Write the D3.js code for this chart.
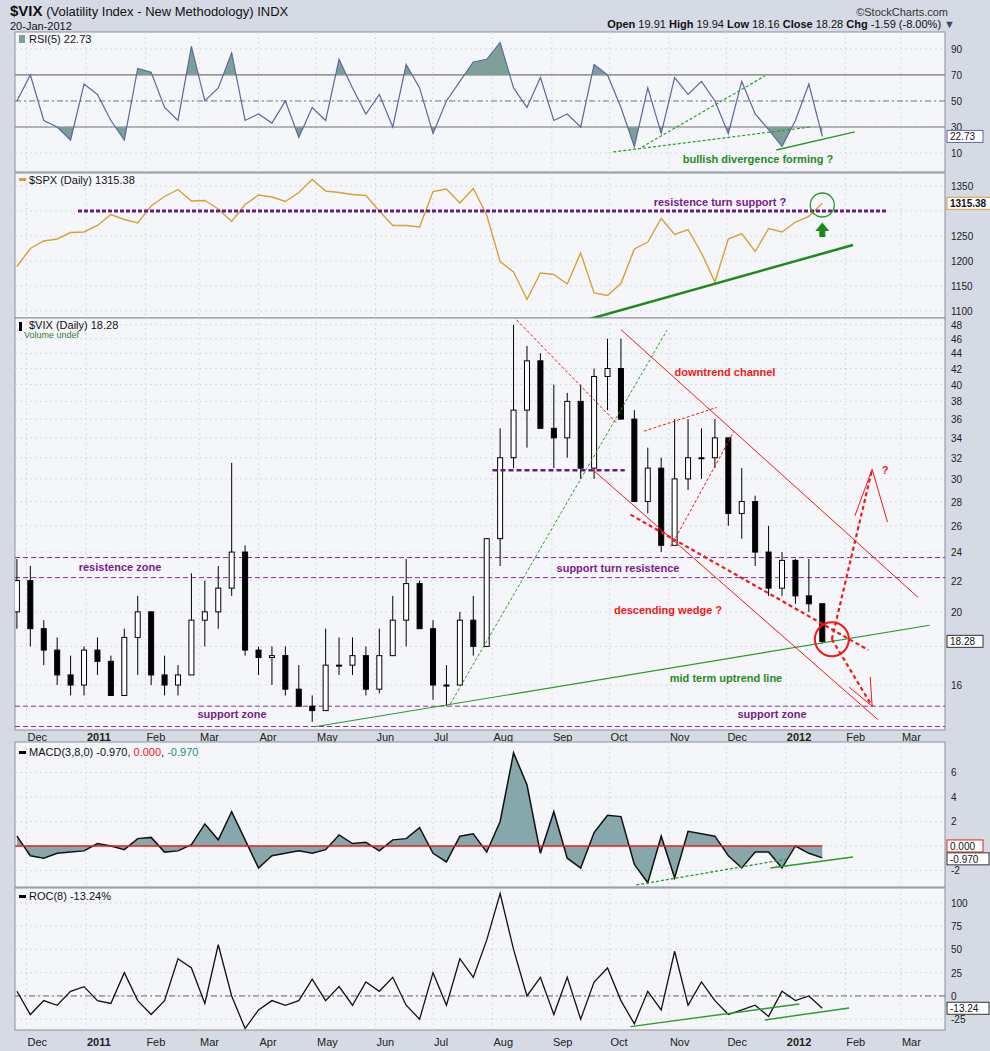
<!DOCTYPE html>
<html>
<head>
<meta charset="utf-8">
<script src="https://cdn.jsdelivr.net/npm/d3@7"></script>
<style>
  body { margin: 0; background: #d5dae4; }
  svg { display: block; font-family: "Liberation Sans", Arial, sans-serif; }
</style>
</head>
<body>
<svg id="chart" width="990" height="1051"></svg>
<script>
// weekly closes, Fri 26-Nov-2010 .. Fri 20-Jan-2012
const firstWeek = new Date(2010, 10, 26);
const vixOpen  = [20,22,19,17.8,16.5,16,17.8,17.2,15.5,18.5,20,16.5,16,16.5,19.5,20,21.5,24,17.8,17.4,17.5,15.8,15,14.8,17,17,17.5,15.8,17.5,19.5,21.8,19,16,16,19.5,18,25,32,37,43,35,34,38,31,41,42,36,28,31,24.5,30,32,32,34,27,28,24,21.5,23.4,21,20.5];
const vixHigh  = [23.5,23,19.5,18.5,17.5,18,18.5,17.5,19,21,20,17.5,17,22.5,22,23,31.5,24.5,18,18,18,17,15.5,19,18.5,18.5,18,19,21,23.5,22,19.5,17,20,21,25,35,48,45,44,40,39,40,42,46,46,37,33,32,36,36,35,36,34,31,28.5,26,24,23.5,23.5,20.5];
const vixLow   = [19,18,17,16,15.5,15.5,16.5,15.5,15.5,16.5,16,15.5,15.5,16.5,18,19,21,17.5,16.5,16,15.5,15,14.3,14.8,16.5,16.5,15.5,15.6,17.5,18,19,15.3,15,16,17.5,18,23,31,33,35,31,32,30,30,37,36,28,27,24,24.5,29,30,31,26,25,23,21,21,20.5,20,18.16];
const vixClose = [22,19,17.8,16.5,16,17.8,17.2,15.5,18.5,20,16.5,16,16.5,19.5,20,21.5,24,17.8,17.4,17.5,15.8,15,14.8,17,17,17.5,15.8,17.5,19.5,21.8,19,16,16,19.5,18,25,32,37,43,35,34,38,31,41,42,36,28,31,24.5,30,32,32,34,27,28,24,21.5,23.4,21,20.5,18.28];
const spx = [1189,1225,1240,1244,1257,1258,1271,1293,1283,1276,1310,1329,1343,1320,1321,1304,1279,1313,1332,1328,1319,1337,1363,1340,1337,1333,1331,1300,1271,1271,1268,1339,1344,1316,1345,1292,1199,1178,1123,1176,1173,1154,1216,1136,1131,1155,1224,1238,1285,1253,1263,1216,1158,1244,1255,1219,1265,1258,1278,1289,1315.38];
const rsi = [50,70,35,30,20,63,55,35,20,75,72,45,35,92,50,60,87,35,40,33,50,22,45,35,82,60,40,55,30,78,60,25,50,65,80,82,95,60,45,68,35,40,30,78,70,45,15,60,25,68,55,65,50,25,65,40,28,15,35,63,22.73];
const macd = [0.8,-0.8,-1,-0.6,-0.5,-0.4,0.2,0,-0.3,0.6,0.7,-0.5,-0.4,0.1,1.8,0.5,2.8,0.5,-1.8,-0.8,-0.6,-0.4,-0.6,-0.3,0.9,0.2,0.3,-0.4,0.5,0.6,1.5,-0.6,-1.3,0.8,1.0,-0.5,2.0,7.6,5.0,-0.6,2.8,-1.0,-1.8,1.1,2.5,2.4,-1.5,-3.0,0.8,-2.6,1.2,1.0,0.8,-0.8,-1.8,-0.5,-0.5,-1.8,0.0,-0.6,-0.97];
const roc = [5,-20,-5,-10,5,10,-5,-8,25,-5,-20,-5,40,30,-8,55,0,-35,-15,-5,-10,-5,18,-5,10,-10,15,5,20,-10,-25,25,-10,40,20,60,110,50,0,20,-20,20,-25,15,30,-5,-30,5,-15,48,-10,15,-5,-20,-15,-10,-22,5,-5,0,-13.24];
const monthTicks = ["2010-12-01","2011-01-01","2011-02-01","2011-03-01","2011-04-01","2011-05-01","2011-06-01","2011-07-01","2011-08-01","2011-09-01","2011-10-01","2011-11-01","2011-12-01","2012-01-01","2012-02-01","2012-03-01"];
const monthLabels = ["Dec","2011","Feb","Mar","Apr","May","Jun","Jul","Aug","Sep","Oct","Nov","Dec","2012","Feb","Mar"];
const vixTicks = [16,18,20,22,24,26,28,30,32,34,36,38,40,42,44,46,48];
const rsiTicks = [10,30,50,70,90];
const spxTicks = [1100,1150,1200,1250,1300,1350];
const macdTicks = [-2,0,2,4,6];
const rocTicks = [-25,0,25,50,75,100];

const pd = s => d3.timeParse("%Y-%m-%d")(s);
const dates = vixClose.map((_, i) => d3.timeDay.offset(firstWeek, 7 * i));

const svg = d3.select("#chart");
const L = 15, R = 945;
const x = d3.scaleTime().domain([pd("2010-11-25"), pd("2012-03-24")]).range([L, R]);

function panel(top, bottom, y, ticks, hidden) {
  const g = svg.append("g");
  g.append("rect").attr("x", L).attr("y", top).attr("width", R - L).attr("height", bottom - top)
    .attr("fill", "#f5f6fa").attr("stroke", "#8a8f9a");
  monthTicks.forEach(t => g.append("line").attr("x1", x(pd(t))).attr("x2", x(pd(t)))
    .attr("y1", top).attr("y2", bottom).attr("stroke", "#d8dbe2").attr("stroke-dasharray", "2,3"));
  ticks.forEach(t => {
    g.append("line").attr("x1", L).attr("x2", R).attr("y1", y(t)).attr("y2", y(t))
      .attr("stroke", "#d8dbe2").attr("stroke-dasharray", "2,3");
    if (!(hidden || []).includes(t))
      g.append("text").attr("x", R + 6).attr("y", y(t) + 4).attr("font-size", 10).attr("fill", "#222").text(t);
  });
  const id = "c" + top;
  svg.append("clipPath").attr("id", id).append("rect").attr("x", L).attr("y", top).attr("width", R - L).attr("height", bottom - top);
  return svg.append("g").attr("clip-path", `url(#${id})`);
}
function hline(g, y, v, stroke, w, dash) {
  g.append("line").attr("x1", L).attr("x2", R).attr("y1", y(v)).attr("y2", y(v))
    .attr("stroke", stroke).attr("stroke-width", w).attr("stroke-dasharray", dash || null);
}
function seg(g, xs, ys, color, w, dash, yScale) {
  g.append("line").attr("x1", x(pd(xs[0]))).attr("y1", yScale(ys[0])).attr("x2", x(pd(xs[1]))).attr("y2", yScale(ys[1]))
    .attr("stroke", color).attr("stroke-width", w).attr("stroke-dasharray", dash || null);
}
function label(txt, px, py, color, size, anchor, weight) {
  svg.append("text").attr("x", px).attr("y", py).attr("fill", color).attr("font-size", size)
    .attr("font-weight", weight || "bold").attr("text-anchor", anchor || "start").text(txt);
}
function valBox(txt, py, color, bold) {
  const w = txt.length * 6 + 6;
  svg.append("rect").attr("x", R + 2).attr("y", py - 6).attr("width", w).attr("height", 12).attr("fill", "#fff").attr("stroke", color);
  svg.append("text").attr("x", R + 5).attr("y", py + 4).attr("font-size", 10).attr("fill", "#111")
    .attr("font-weight", bold ? "bold" : "normal").text(txt);
}

// header
svg.append("text").attr("x", 10).attr("y", 16).attr("font-size", 13).attr("fill", "#111")
  .html('<tspan font-weight="bold" font-size="15">$VIX</tspan> (Volatility Index - New Methodology) INDX');
label("20-Jan-2012", 10, 30, "#111", 11, "start", "normal");
label("\u00a9StockCharts.com", 948, 16, "#333", 11, "end", "normal");
svg.append("text").attr("x", 955).attr("y", 28).attr("font-size", 11).attr("text-anchor", "end").attr("fill", "#111")
  .html('<tspan font-weight="bold">Open</tspan> 19.91 <tspan font-weight="bold">High</tspan> 19.94 <tspan font-weight="bold">Low</tspan> 18.16 <tspan font-weight="bold">Close</tspan> 18.28 <tspan font-weight="bold">Chg</tspan> -1.59 (-8.00%) <tspan fill="#446">\u25BC</tspan>');

// RSI
const yR = d3.scaleLinear().domain([-4.6, 103]).range([172, 32]);
const gR = panel(32, 172, yR, rsiTicks);
hline(gR, yR, 70, "#777", 1.2); hline(gR, yR, 30, "#777", 1.2); hline(gR, yR, 50, "#777", 1, "6,3,2,3");
const rsiPts = rsi.map((v, i) => [dates[i], v]);
["hi", "lo"].forEach(k => {
  const lvl = k === "hi" ? 70 : 30;
  const cid = "rsi" + k;
  svg.append("clipPath").attr("id", cid).append("rect").attr("x", L)
    .attr("y", k === "hi" ? 32 : yR(30)).attr("width", R - L).attr("height", k === "hi" ? yR(70) - 32 : 172 - yR(30));
  gR.append("path").datum(rsiPts).attr("clip-path", `url(#${cid})`).attr("fill", "#7e9e9b")
    .attr("d", d3.area().x(d => x(d[0])).y0(yR(lvl)).y1(d => yR(d[1])));
});
gR.append("path").datum(rsiPts).attr("fill", "none").attr("stroke", "#5b6a9c").attr("stroke-width", 1.2)
  .attr("d", d3.line().x(d => x(d[0])).y(d => yR(d[1])));
seg(gR, ["2011-10-03", "2012-01-14"], [10.8, 30], "#2a9a2a", 1.2, "3,2", yR);
seg(gR, ["2011-10-18", "2011-12-21"], [14.6, 69.2], "#2a9a2a", 1.2, "3,2", yR);
seg(gR, ["2011-12-27", "2012-02-06"], [12.3, 26.2], "#2a9a2a", 1.4, null, yR);
label("RSI(5) 22.73", 29, 43, "#111", 11, "start", "normal");
svg.append("rect").attr("x", 19).attr("y", 35).attr("width", 6).attr("height", 8).attr("fill", "#7e9e9b");
label("bullish divergence forming ?", 758, 163, "#1f8a1f", 11, "middle");
valBox("22.73", yR(22.73), "#5b6a9c");

// SPX
const yS = d3.scaleLinear().domain([1086, 1376]).range([318, 173]);
const gS = panel(173, 318, yS, spxTicks, [1300]);
gS.append("path").datum(spx.map((v, i) => [dates[i], v])).attr("fill", "none").attr("stroke", "#d9a033").attr("stroke-width", 1.4)
  .attr("d", d3.line().x(d => x(d[0])).y(d => yS(d[1])));
gS.append("line").attr("x1", 78).attr("x2", 887).attr("y1", yS(1300)).attr("y2", yS(1300))
  .attr("stroke", "#6a1a80").attr("stroke-width", 3).attr("stroke-dasharray", "4,2");
seg(gS, ["2011-09-15", "2012-02-05"], [1078, 1232], "#1a8a1a", 2.5, null, yS);
const ax = x(dates[60]);
gS.append("circle").attr("cx", ax).attr("cy", yS(1312)).attr("r", 12).attr("fill", "none").attr("stroke", "#2a9a2a").attr("stroke-width", 1.3);
gS.append("path").attr("fill", "#1a8a1a")
  .attr("d", `M${ax - 7},${yS(1260)} L${ax},${yS(1277)} L${ax + 7},${yS(1260)} L${ax + 3},${yS(1260)} L${ax + 3},${yS(1248)} L${ax - 3},${yS(1248)} L${ax - 3},${yS(1260)} Z`);
label("$SPX (Daily) 1315.38", 29, 184, "#111", 11, "start", "normal");
svg.append("rect").attr("x", 19).attr("y", 178).attr("width", 7).attr("height", 3).attr("fill", "#d9a033");
label("resistence turn support ?", 720, 206, "#7a1a8a", 11, "middle");
valBox("1315.38", yS(1315.38), "#d9a033", true);

// VIX
const yV = d3.scaleLog().domain([13.95, 49]).range([730, 318]);
const gV = panel(318, 730, yV, vixTicks, [18]);
[23.6, 22.2, 15.0, 14.1].forEach(v => hline(gV, yV, v, "#8a2a9a", 1, "5,3"));
const cw = 5;
dates.forEach((d, i) => {
  const up = vixClose[i] >= vixOpen[i];
  gV.append("line").attr("x1", x(d)).attr("x2", x(d)).attr("y1", yV(vixHigh[i])).attr("y2", yV(vixLow[i])).attr("stroke", "#000");
  const t = yV(Math.max(vixOpen[i], vixClose[i])), b = yV(Math.min(vixOpen[i], vixClose[i]));
  gV.append("rect").attr("x", x(d) - cw / 2).attr("y", t).attr("width", cw).attr("height", Math.max(1, b - t))
    .attr("fill", up ? "#fff" : "#000").attr("stroke", "#000");
});
gV.append("line").attr("x1", x(pd("2011-08-01"))).attr("x2", x(pd("2011-10-09"))).attr("y1", yV(30.8)).attr("y2", yV(30.8))
  .attr("stroke", "#6a1a80").attr("stroke-width", 2.5).attr("stroke-dasharray", "5,3");
seg(gV, ["2011-05-01", "2012-03-16"], [14.1, 19.2], "#2a9a2a", 1.2, null, yV);
seg(gV, ["2011-07-10", "2011-10-31"], [15.1, 47.2], "#2a9a2a", 1, "3,2", yV);
seg(gV, ["2011-10-07", "2012-03-10"], [47.3, 20.9], "#f01818", 1, null, yV);
seg(gV, ["2011-09-22", "2012-02-18"], [30.9, 14.4], "#f01818", 1, null, yV);
seg(gV, ["2011-08-10", "2011-10-05"], [49.8, 35.5], "#f01818", 1, "3,2", yV);
seg(gV, ["2011-10-19", "2011-11-26"], [34.7, 37.3], "#f01818", 1, "3,2", yV);
seg(gV, ["2011-11-02", "2011-12-05"], [24.4, 34.7], "#f01818", 1, "3,2", yV);
seg(gV, ["2011-10-12", "2012-02-13"], [26.9, 17.8], "#f01818", 2.2, "4,3", yV);
seg(gV, ["2012-01-25", "2012-02-15"], [18.4, 30.9], "#f01818", 2.2, "4,3", yV);
seg(gV, ["2012-01-25", "2012-02-15"], [18.4, 15.0], "#f01818", 2.2, "4,3", yV);
seg(gV, ["2012-02-15", "2012-02-06"], [30.9, 26.8], "#f01818", 1, null, yV);
seg(gV, ["2012-02-15", "2012-02-23"], [30.9, 26.3], "#f01818", 1, null, yV);
seg(gV, ["2012-02-15", "2012-02-03"], [15.0, 15.9], "#f01818", 1, null, yV);
seg(gV, ["2012-02-15", "2012-02-14"], [15.0, 16.4], "#f01818", 1, null, yV);
gV.append("circle").attr("cx", x(pd("2012-01-25"))).attr("cy", yV(18.4)).attr("r", 17).attr("fill", "none").attr("stroke", "#f01818").attr("stroke-width", 2);
label("$VIX (Daily) 18.28", 29, 329, "#111", 11, "start", "normal");
svg.append("rect").attr("x", 19).attr("y", 322).attr("width", 3).attr("height", 9).attr("fill", "#000");
label("Volume undef", 24, 338, "#3a7a3a", 9, "start", "normal");
label("downtrend channel", 725, 376, "#f01818", 11, "middle");
label("resistence zone", 120, 571, "#7a1a8a", 11, "middle");
label("support  turn resistence", 618, 572, "#7a1a8a", 11, "middle");
label("descending wedge ?", 668, 614, "#f01818", 11, "middle");
label("mid term uptrend line", 726, 682, "#1f8a1f", 11, "middle");
label("support zone", 232, 718, "#7a1a8a", 11, "middle");
label("support zone", 772, 718, "#7a1a8a", 11, "middle");
label("?", 885, 474, "#f01818", 11, "middle");
valBox("18.28", yV(18.28), "#333");

// month axes
function monthAxis(py) {
  monthTicks.forEach((t, i) => label(monthLabels[i], x(pd(t)) + 1, py, "#222", 11, "start", /^20/.test(monthLabels[i]) ? "bold" : "normal"));
}
monthAxis(741);

// MACD
const yM = d3.scaleLinear().domain([-3.35, 8.49]).range([887, 742]);
const gM = panel(742, 887, yM, macdTicks, [0]);
const macdPts = macd.map((v, i) => [dates[i], v]);
gM.append("path").datum(macdPts).attr("fill", "#86a8ad")
  .attr("d", d3.area().x(d => x(d[0])).y0(yM(0)).y1(d => yM(d[1])));
gM.append("path").datum(macdPts).attr("fill", "none").attr("stroke", "#111").attr("stroke-width", 1.5)
  .attr("d", d3.line().x(d => x(d[0])).y(d => yM(d[1])));
gM.append("line").attr("x1", L).attr("x2", x(dates[60])).attr("y1", yM(0)).attr("y2", yM(0)).attr("stroke", "#f01818").attr("stroke-width", 1.5);
seg(gM, ["2011-10-15", "2012-01-02"], [-3.18, -1.06], "#2a9a2a", 1.3, "3,2", yM);
seg(gM, ["2011-12-24", "2012-02-05"], [-1.8, -0.9], "#2a9a2a", 1.4, null, yM);
svg.append("text").attr("x", 29).attr("y", 756).attr("font-size", 11).attr("fill", "#111")
  .html('MACD(3,8,0) -0.970, <tspan fill="#f01818">0.000</tspan>, <tspan fill="#2a8a7a">-0.970</tspan>');
svg.append("rect").attr("x", 19).attr("y", 751).attr("width", 7).attr("height", 3).attr("fill", "#000");
valBox("0.000", yM(0), "#f01818");
valBox("-0.970", yM(-0.97) + 1, "#333");

// ROC
const yC = d3.scaleLinear().domain([-36.6, 116]).range([1030, 888]);
const gC = panel(888, 1030, yC, rocTicks);
hline(gC, yC, 0, "#666", 1, "6,3,2,3");
gC.append("path").datum(roc.map((v, i) => [dates[i], v])).attr("fill", "none").attr("stroke", "#111").attr("stroke-width", 1.3)
  .attr("d", d3.line().x(d => x(d[0])).y(d => yC(d[1])));
seg(gC, ["2011-10-12", "2012-01-08"], [-33, -8.6], "#2a9a2a", 1.4, null, yC);
seg(gC, ["2011-12-21", "2012-02-03"], [-25.8, -12.9], "#2a9a2a", 1.4, null, yC);
label("ROC(8) -13.24%", 29, 900, "#111", 11, "start", "normal");
svg.append("rect").attr("x", 19).attr("y", 895).attr("width", 7).attr("height", 3).attr("fill", "#000");
valBox("-13.24", yC(-13.24), "#333");
monthAxis(1046);
</script>
</body>
</html>
